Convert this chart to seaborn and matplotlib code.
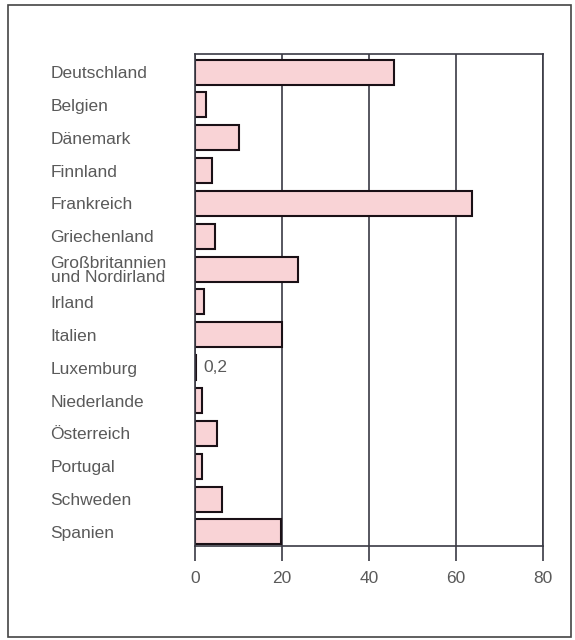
import seaborn as sns
import matplotlib.pyplot as plt
from matplotlib.patches import Rectangle

# Daten
laender = ["Deutschland", "Belgien", "Dänemark", "Finnland", "Frankreich",
           "Griechenland", "Großbritannien\nund Nordirland", "Irland", "Italien",
           "Luxemburg", "Niederlande", "Österreich", "Portugal", "Schweden", "Spanien"]
werte = [45.8, 2.5, 10.0, 4.0, 63.7, 4.6, 23.6, 2.0, 19.9, 0.2, 1.7, 5.1, 1.6, 6.2, 19.7]
x_ticks = [0, 20, 40, 60, 80]
lux_label = "0,2"

sns.set_style("white")
plt.rcParams['font.family'] = ['Liberation Sans', 'DejaVu Sans']

text_color = "#5a5a5a"
line_color = "#3a3a44"
bar_color = "#f9d3d6"

fig = plt.figure(figsize=(5.75, 6.4), dpi=100)
ax = fig.add_axes([195 / 575, 1 - 546 / 640, 348 / 575, 492 / 640])

sns.barplot(x=werte, y=laender, orient="h", color=bar_color, saturation=1,
            edgecolor="#1a1016", linewidth=1.5, width=0.76, ax=ax)

ax.set_xlim(0, 80)
ax.set_ylim(14.43, -0.55)
ax.set_xticks(x_ticks)
ax.set_axisbelow(True)
ax.xaxis.grid(True, color=line_color, linewidth=1.2)

for sp in ax.spines.values():
    sp.set_visible(True)
    sp.set_color(line_color)
    sp.set_linewidth(1.2)

ax.tick_params(axis="x", direction="out", length=11, width=1.2, color=line_color,
               labelsize=12.5, labelcolor=text_color, pad=7, bottom=True)
ax.tick_params(axis="y", length=0, labelsize=12.5, labelcolor=text_color, pad=104)
for lbl in ax.get_yticklabels():
    lbl.set_horizontalalignment("left")
    lbl.set_linespacing(0.95)

ax.set_xlabel("")
ax.set_ylabel("")

# Beschriftung Luxemburg
idx = laender.index("Luxemburg")
ax.text(werte[idx] + 1.8, idx, lux_label, va="center", ha="left",
        fontsize=12.5, color=text_color)

# Rahmen um die Grafik
fig.patches.append(Rectangle((8 / 575, 3 / 640), 563 / 575, 632 / 640,
                             transform=fig.transFigure, fill=False,
                             edgecolor="#444444", linewidth=1.2))

fig.savefig("out.png", dpi=100)
